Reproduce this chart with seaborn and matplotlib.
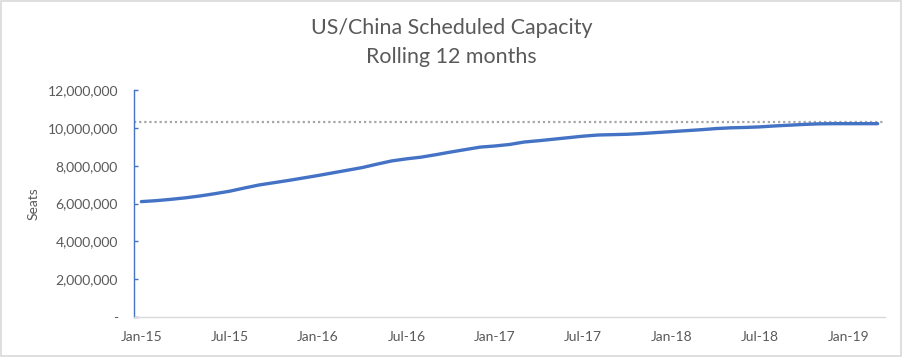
import matplotlib
matplotlib.use("Agg")
import matplotlib.pyplot as plt
import matplotlib.ticker as mticker
from matplotlib.patches import Rectangle
import seaborn as sns
import pandas as pd

# ---- data ----
months = pd.date_range("2015-01-01", "2019-03-01", freq="MS").strftime("%b-%y").tolist()
seats_m = [6.10, 6.15, 6.22, 6.30, 6.40, 6.52, 6.65, 6.82, 6.98, 7.10,
           7.22, 7.35, 7.48, 7.62, 7.76, 7.90, 8.08, 8.25, 8.36, 8.45,
           8.58, 8.72, 8.85, 8.98, 9.04, 9.12, 9.25, 9.32, 9.40, 9.48,
           9.56, 9.62, 9.64, 9.66, 9.70, 9.75, 9.80, 9.85, 9.90, 9.96,
           10.00, 10.02, 10.05, 10.10, 10.14, 10.18, 10.21, 10.22, 10.22, 10.22,
           10.22]
seats = [v * 1e6 for v in seats_m]
reference_level = 10.30e6
tick_labels = ["Jan-15", "Jul-15", "Jan-16", "Jul-16", "Jan-17",
               "Jul-17", "Jan-18", "Jul-18", "Jan-19"]
y_ticks = [0, 2e6, 4e6, 6e6, 8e6, 10e6, 12e6]

df = pd.DataFrame({"idx": range(len(months)), "month": months, "seats": seats})

sns.set_theme(style="white")
plt.rcParams["font.family"] = ["Lato", "DejaVu Sans"]

fig = plt.figure(figsize=(9.03, 3.57), dpi=100)
ax = fig.add_axes([134/903, 1-317/357, (885-134)/903, (317-90)/357])

text_c = "#595959"
sns.lineplot(data=df, x="idx", y="seats", ax=ax, color="#4472C4", linewidth=2.4)
ax.axhline(reference_level, color="#A6A6A6", linestyle=(0, (1, 1.3)), linewidth=1.6, zorder=1)

ax.set_xlim(-0.5, len(months) - 0.5)
ax.set_ylim(0, 12e6)
pos = [months.index(t) for t in tick_labels]
ax.set_xticks(pos)
ax.set_xticklabels(tick_labels)
ax.set_yticks(y_ticks)
ax.yaxis.set_major_formatter(mticker.FuncFormatter(lambda v, p: "-" if v == 0 else f"{int(v):,}"))

for s in ["top", "right"]:
    ax.spines[s].set_visible(False)
ax.spines["left"].set_color("#4472C4")
ax.spines["left"].set_linewidth(1.0)
ax.spines["bottom"].set_color("#D9D9D9")
ax.spines["bottom"].set_linewidth(1.0)

ax.tick_params(axis="y", which="major", left=True, direction="in", length=3, width=1.0,
               color="#4472C4", labelsize=10, labelcolor=text_c, pad=11.5)
ax.tick_params(axis="x", which="major", bottom=False, length=0, labelsize=10,
               labelcolor=text_c, pad=10)

ax.set_xlabel("")
ax.set_ylabel("Seats", fontsize=10, color=text_c, labelpad=6)

fig.text(0.5, 1-28/357, "US/China Scheduled Capacity", ha="center", va="center",
         fontsize=15.4, color=text_c)
fig.text(0.5, 1-57/357, "Rolling 12 months", ha="center", va="center",
         fontsize=15.4, color=text_c)

fig.patches.append(Rectangle((0.001, 0.002), 0.997, 0.995, transform=fig.transFigure,
                             fill=False, edgecolor="#D9D9D9", linewidth=1.2))

fig.savefig("out.png", dpi=100, facecolor="white")
